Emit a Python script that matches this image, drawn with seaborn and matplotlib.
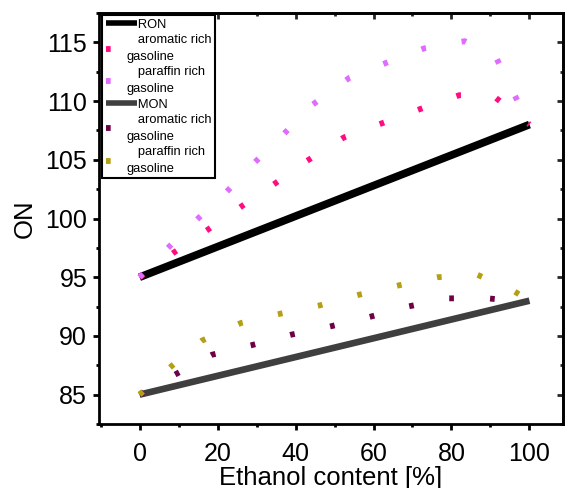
import matplotlib
matplotlib.use("Agg")
import matplotlib.pyplot as plt
from matplotlib.ticker import MultipleLocator
import seaborn as sns
import pandas as pd

# ---- data ----
ron_x = [0, 100]
ron_y = [95.0, 108.0]
mon_x = [0, 100]
mon_y = [85.0, 93.0]

ron_arom_x = [0, 8.8, 17.3, 26.0, 34.4, 42.9, 52.4, 62.1, 71.8, 82.0, 90.5, 98.5, 100]
ron_arom_y = [95.0, 97.1, 99.0, 101.0, 102.9, 104.9, 106.9, 108.1, 109.3, 110.5, 110.5, 108.4, 108.0]

ron_par_x = [0, 7.6, 15.0, 22.4, 29.6, 37.0, 44.4, 53.9, 63.6, 73.1, 83.4, 91.3, 95.9, 100]
ron_par_y = [95.0, 97.6, 100.0, 102.3, 104.8, 107.2, 109.7, 112.0, 113.3, 114.5, 115.1, 113.8, 110.7, 108.0]

mon_arom_x = [0, 9.6, 18.6, 28.6, 38.8, 48.8, 58.8, 68.8, 79.0, 89.2, 99.5]
mon_arom_y = [85.0, 86.8, 88.4, 89.2, 90.1, 90.8, 91.6, 92.5, 93.2, 93.2, 92.9]

mon_par_x = [0, 8.1, 16.0, 26.0, 36.2, 46.2, 56.2, 66.4, 76.4, 86.7, 95.6, 100]
mon_par_y = [85.0, 87.4, 89.6, 91.1, 91.9, 92.6, 93.5, 94.3, 95.0, 95.2, 93.9, 93.0]

labels = ["   RON", "   aromatic rich\ngasoline", "   paraffin rich\ngasoline",
          "   MON", "   aromatic rich\ngasoline", "   paraffin rich\ngasoline"]

xticks = [0, 20, 40, 60, 80, 100]
yticks = [85, 90, 95, 100, 105, 110, 115]

# ---- style ----
sns.set_theme(style="white")
plt.rcParams["font.family"] = ["Liberation Sans", "DejaVu Sans"]

DPI = 100
fig = plt.figure(figsize=(5.69, 4.88), dpi=DPI)
W, H = 569, 488
ax = fig.add_axes([99 / W, 1 - 424 / H, (563 - 99) / W, (424 - 13) / H])

solid = [
    (ron_x, ron_y, "#000000", 5.6),
    (mon_x, mon_y, "#3f3f3f", 4.8),
]
dotted = [
    (ron_arom_x, ron_arom_y, "#ff0d80"),
    (ron_par_x, ron_par_y, "#df6cff"),
    (mon_arom_x, mon_arom_y, "#6e0044"),
    (mon_par_x, mon_par_y, "#b4a014"),
]

handles = []
for xs, ys, c, lw in solid:
    sns.lineplot(x=xs, y=ys, ax=ax, color=c, linewidth=lw, errorbar=None, sort=False)
    ln = ax.lines[-1]
    ln.set_solid_capstyle("butt")
    ln.set_zorder(2)
    handles.append(ln)

dot_lw = 4.2
for xs, ys, c in dotted:
    sns.lineplot(x=xs, y=ys, ax=ax, color=c, linewidth=dot_lw, errorbar=None, sort=False)
    ln = ax.lines[-1]
    ln.set_dashes((0.8, 6.2))
    ln.set_dash_capstyle("butt")
    ln.set_zorder(3)
    handles.append(ln)

order = [handles[0], handles[2], handles[3], handles[1], handles[4], handles[5]]

ax.set_xlim(-10.4, 108.6)
ax.set_ylim(82.5, 117.5)
ax.set_xticks(xticks)
ax.set_yticks(yticks)
ax.xaxis.set_minor_locator(MultipleLocator(10))
ax.yaxis.set_minor_locator(MultipleLocator(2.5))

for s in ax.spines.values():
    s.set_linewidth(2.0)
    s.set_color("black")
    s.set_visible(True)

ax.tick_params(axis="both", which="major", labelsize=18, length=4.5, width=2.0,
               color="black", labelcolor="black")
ax.tick_params(axis="both", which="minor", length=2.5, width=2.0, color="black")
ax.tick_params(axis="x", which="both", direction="out", bottom=True, top=False, pad=8.5)
ax.tick_params(axis="y", which="both", direction="out", left=True, right=False, pad=4)
ax.grid(False)

# mirrored inward ticks on top and right
secx = ax.secondary_xaxis("top")
secx.set_xticks(xticks)
secx.xaxis.set_minor_locator(MultipleLocator(10))
secx.tick_params(which="major", direction="in", length=4.5, width=2.0, labeltop=False)
secx.tick_params(which="minor", direction="in", length=2.5, width=2.0)
secx.spines["top"].set_linewidth(2.0)
secy = ax.secondary_yaxis("right")
secy.set_yticks(yticks)
secy.yaxis.set_minor_locator(MultipleLocator(2.5))
secy.tick_params(which="major", direction="in", length=4.5, width=2.0, labelright=False)
secy.tick_params(which="minor", direction="in", length=2.5, width=2.0)
secy.spines["right"].set_linewidth(2.0)

ax.set_xlabel("Ethanol content [%]", fontsize=18.5, labelpad=0, color="black")
ax.set_ylabel("ON", fontsize=18.5, labelpad=6, color="black")

leg = ax.legend(order, labels, loc="upper left",
                bbox_to_anchor=(3 / 464, 1 - 2 / 411), borderaxespad=0,
                fontsize=9.3, frameon=True, fancybox=False, shadow=False,
                handlelength=2.4, handletextpad=-0.75, labelspacing=0.28,
                borderpad=0.28, framealpha=1, edgecolor="black")
leg.get_frame().set_linewidth(1.5)
for t in leg.get_texts():
    t.set_color("black")
    t.set_linespacing(1.5)
for i, lh in enumerate(leg.get_lines()):
    if i in (0, 3):
        lh.set_linewidth(4.0)

fig.savefig("out.png", dpi=DPI)
